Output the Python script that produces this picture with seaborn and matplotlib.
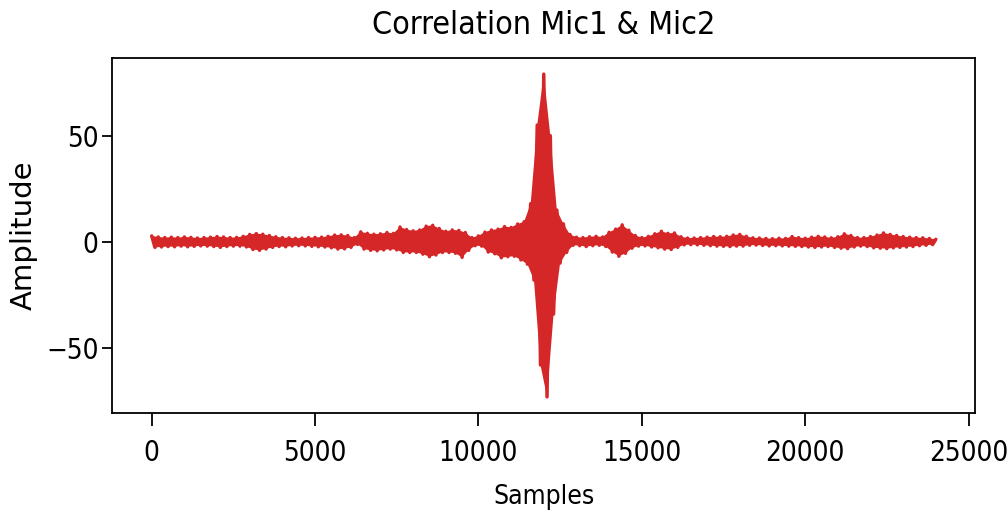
import numpy as np
import pandas as pd
import matplotlib
matplotlib.use("Agg")
import matplotlib.pyplot as plt
import seaborn as sns

# peaks of the correlation
# positive peaks at samples 0, 200, 400, ..., 24000
upper = [
    2.8, 2.3, 2.0, 2.2, 2.0, 2.3, 2.1, 1.8, 2.0, 2.2,
    2.5, 2.3, 2.0, 2.1, 2.6, 3.5, 3.9, 3.6, 3.0, 2.4,
    2.0, 1.9, 1.7, 1.8, 2.0, 2.1, 2.2, 2.6, 3.2, 3.3,
    3.0, 2.0, 4.7, 4.0, 3.6, 3.8, 4.4, 4.0, 7.0, 5.8,
    5.2, 5.6, 7.4, 7.8, 6.3, 5.0, 5.6, 5.4, 4.4, 2.0,
    2.8, 4.6, 5.6, 6.0, 7.2, 6.8, 8.4, 9.5, 18.0, 55.0,
    79.0, 50.0, 15.0, 8.5, 3.5, 2.2, 2.0, 2.4, 2.6, 2.3,
    4.5, 6.0, 8.0, 5.5, 3.0, 2.0, 2.6, 3.8, 5.0, 4.0,
    4.2, 2.4, 1.8, 1.8, 2.0, 2.2, 2.5, 2.4, 2.6, 3.2,
    3.5, 2.6, 1.9, 1.8, 1.6, 1.5, 1.7, 1.6, 2.5, 2.0,
    1.7, 2.2, 2.6, 2.3, 1.9, 2.4, 3.8, 3.0, 2.0, 2.0,
    2.5, 3.2, 4.2, 3.5, 3.0, 2.5, 2.2, 2.0, 1.9, 1.6,
    1.2,
]
# negative peaks (size) at samples 100, 300, ..., 23900
lower = [
    2.6, 2.4, 2.2, 2.3, 2.0, 2.3, 2.1, 1.9, 2.0, 2.2,
    2.6, 2.2, 2.0, 2.0, 2.4, 3.6, 4.0, 3.4, 2.6, 2.2,
    2.3, 1.9, 1.8, 1.9, 2.1, 2.3, 2.4, 2.8, 3.4, 3.3,
    2.6, 1.2, 3.4, 4.0, 4.2, 3.8, 3.4, 3.8, 5.0, 5.0,
    5.0, 5.8, 7.0, 6.2, 5.0, 5.0, 5.4, 7.3, 4.0, 1.8,
    2.0, 4.8, 5.6, 7.5, 7.0, 6.8, 8.5, 10.5, 18.0, 58.0,
    73.0, 34.0, 10.0, 5.0, 1.6, 1.8, 2.2, 1.8, 1.6, 2.2,
    4.8, 6.8, 5.4, 3.0, 2.0, 1.9, 2.4, 2.8, 3.4, 3.6,
    2.6, 1.4, 1.3, 1.4, 1.6, 1.8, 2.0, 2.1, 2.2, 2.0,
    2.0, 1.6, 1.5, 1.7, 1.9, 1.8, 1.9, 2.0, 2.1, 2.2,
    2.4, 2.6, 2.4, 2.2, 2.6, 3.0, 3.2, 2.4, 2.0, 2.2,
    2.8, 3.0, 3.2, 2.8, 2.6, 2.4, 2.2, 1.8, 1.6, 1.3,
]
step = 100

title = "Correlation Mic1 & Mic2"
x_label = "Samples"
y_label = "Amplitude"
x_ticks = [0, 5000, 10000, 15000, 20000, 25000]
y_ticks = [-50, 0, 50]
red = "#d62728"

# interleave the positive and negative peaks
amp = np.empty(len(upper) + len(lower))
amp[0::2] = upper
amp[1::2] = -np.array(lower)
df = pd.DataFrame({"sample": np.arange(len(amp)) * step, "amp": amp})

sns.set_style("ticks")
plt.rcParams["font.family"] = ["DejaVu Sans"]
plt.rcParams["font.stretch"] = "condensed"
plt.rcParams["text.color"] = "black"
plt.rcParams["axes.labelcolor"] = "black"
plt.rcParams["axes.edgecolor"] = "black"
plt.rcParams["axes.linewidth"] = 1.3

fig = plt.figure(figsize=(10.08, 5.14), dpi=100)
ax = fig.add_axes([0.1116, 0.1965, 0.8557, 0.6907])

# the signal is so dense that it shows as a solid band: fill between the peaks
up = df.iloc[0::2]
lo = df.iloc[1::2].iloc[::-1]
ax.fill(np.r_[up["sample"], lo["sample"]], np.r_[up["amp"], lo["amp"]],
        color=red, lw=0)
sns.lineplot(data=df, x="sample", y="amp", color=red,
             linewidth=2.5, errorbar=None, ax=ax)

ax.set_xticks(x_ticks)
ax.set_yticks(y_ticks)
ax.tick_params(axis="x", length=9, width=1.3, pad=10, labelsize=20, colors="black")
ax.tick_params(axis="y", length=7, width=1.3, pad=3, labelsize=20, colors="black")
for side in ["top", "right", "left", "bottom"]:
    ax.spines[side].set_visible(True)

ax.set_title(title, fontsize=23, pad=17)
ax.set_xlabel(x_label, fontsize=19, labelpad=12)
ax.set_ylabel(y_label, fontsize=21, labelpad=6, fontstretch="normal")

fig.savefig("out.png", dpi=100)
